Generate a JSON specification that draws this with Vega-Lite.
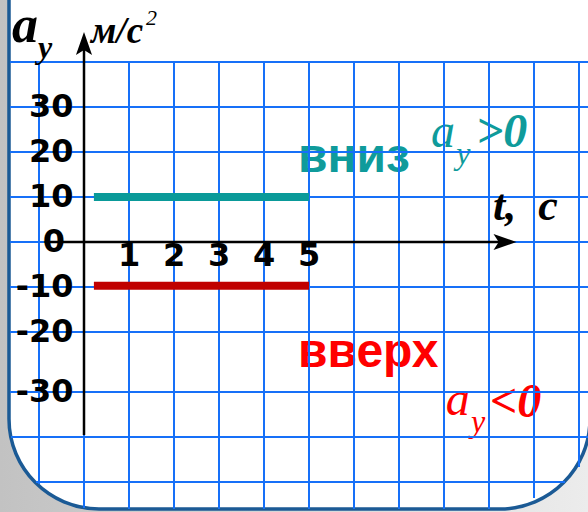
{
  "$schema": "https://vega.github.io/schema/vega-lite/v6.json",
  "width": 588,
  "height": 512,
  "padding": 0,
  "autosize": {"type": "none"},
  "config": {"view": {"stroke": null}},
  "resolve": {"scale": {"color": "independent"}},
  "encoding": {
    "x": {"field": "t", "type": "quantitative", "scale": {"domain": [-1.86667, 11.2], "nice": false, "zero": false}, "axis": null},
    "y": {"field": "v", "type": "quantitative", "scale": {"domain": [-60, 53.7778], "nice": false, "zero": false}, "axis": null}
  },
  "layer": [
    {
      "data": {"values": [{"t": -1.86667, "t2": 11.2, "v": -60, "v2": 53.7778}]},
      "mark": {"type": "rect", "fill": {"gradient": "linear", "x1": 0, "y1": 0, "x2": 1, "y2": 0, "stops": [{"offset": 0, "color": "#c2c2c2"}, {"offset": 1, "color": "#ececec"}]}},
      "encoding": {"x2": {"field": "t2"}, "y2": {"field": "v2"}}
    },
    {
      "data": {"values": [{"t": -1.6667, "t2": 11.244, "v": -59.33, "v2": 76}]},
      "mark": {"type": "rect", "fill": "white", "stroke": "#1b5a95", "strokeWidth": 3.5, "cornerRadius": 90},
      "encoding": {"x2": {"field": "t2"}, "y2": {"field": "v2"}}
    },
    {
      "data": {"values": [
        {"t": 4.756, "v": 15.56, "label": "вниз", "sign": "a_y>0"},
        {"t": 4.756, "v": -27.78, "label": "вверх", "sign": "a_y<0"}
      ]},
      "mark": {"type": "text", "font": "Liberation Sans", "fontWeight": "bold", "fontSize": 48, "align": "left", "baseline": "alphabetic"},
      "encoding": {
        "text": {"field": "label"},
        "color": {"field": "sign", "type": "nominal", "scale": {"domain": ["a_y>0", "a_y<0"], "range": ["#0f9b9b", "#ff0000"]}, "legend": null}
      }
    },
    {
      "data": {"values": [
        {"t": 7.71, "v": 21.11, "label": "a", "sign": "a_y>0"},
        {"t": 8.04, "v": -38.44, "label": "a", "sign": "a_y<0"}
      ]},
      "mark": {"type": "text", "font": "Liberation Serif", "fontStyle": "italic", "fontSize": 48, "align": "left", "baseline": "alphabetic"},
      "encoding": {
        "text": {"field": "label"},
        "color": {"field": "sign", "type": "nominal", "scale": {"domain": ["a_y>0", "a_y<0"], "range": ["#0f9b9b", "#ff0000"]}, "legend": null}
      }
    },
    {
      "data": {"values": [
        {"t": 8.71, "v": 21.11, "label": ">0", "sign": "a_y>0"},
        {"t": 9.02, "v": -38.89, "label": "<0", "sign": "a_y<0"}
      ]},
      "mark": {"type": "text", "font": "Liberation Serif", "fontStyle": "italic", "fontWeight": "bold", "fontSize": 48, "align": "left", "baseline": "alphabetic"},
      "encoding": {
        "text": {"field": "label"},
        "color": {"field": "sign", "type": "nominal", "scale": {"domain": ["a_y>0", "a_y<0"], "range": ["#0f9b9b", "#ff0000"]}, "legend": null}
      }
    },
    {
      "data": {"values": [
        {"t": 8.27, "v": 17.33, "label": "y", "sign": "a_y>0"},
        {"t": 8.6, "v": -42.22, "label": "y", "sign": "a_y<0"}
      ]},
      "mark": {"type": "text", "font": "Liberation Serif", "fontStyle": "italic", "fontSize": 32, "align": "left", "baseline": "alphabetic"},
      "encoding": {
        "text": {"field": "label"},
        "color": {"field": "sign", "type": "nominal", "scale": {"domain": ["a_y>0", "a_y<0"], "range": ["#0f9b9b", "#ff0000"]}, "legend": null}
      }
    },
    {
      "data": {"values": [
        {"t": -1, "t2": -1, "v": 40, "v2": -53.78},
        {"t": 0, "t2": 0, "v": 40, "v2": -59.1},
        {"t": 1, "t2": 1, "v": 40, "v2": -59.33},
        {"t": 2, "t2": 2, "v": 40, "v2": -59.33},
        {"t": 3, "t2": 3, "v": 40, "v2": -59.33},
        {"t": 4, "t2": 4, "v": 40, "v2": -59.33},
        {"t": 5, "t2": 5, "v": 40, "v2": -59.33},
        {"t": 6, "t2": 6, "v": 40, "v2": -59.33},
        {"t": 7, "t2": 7, "v": 40, "v2": -59.33},
        {"t": 8, "t2": 8, "v": 40, "v2": -59.33},
        {"t": 9, "t2": 9, "v": 40, "v2": -59.33},
        {"t": 10, "t2": 10, "v": 40, "v2": -56.9},
        {"t": 11, "t2": 11, "v": 40, "v2": -50},
        {"t": -1.644, "t2": 11.2, "v": 40, "v2": 40},
        {"t": -1.644, "t2": 11.2, "v": 30, "v2": 30},
        {"t": -1.644, "t2": 11.2, "v": 20, "v2": 20},
        {"t": -1.644, "t2": 11.2, "v": 10, "v2": 10},
        {"t": -1.644, "t2": 11.2, "v": 0, "v2": 0},
        {"t": -1.644, "t2": 11.2, "v": -10, "v2": -10},
        {"t": -1.644, "t2": 11.2, "v": -20, "v2": -20},
        {"t": -1.644, "t2": 11.2, "v": -33.33, "v2": -33.33},
        {"t": -1.622, "t2": 11.2, "v": -43.33, "v2": -43.33},
        {"t": -1.067, "t2": 10.69, "v": -53.33, "v2": -53.33}
      ]},
      "mark": {"type": "rule", "color": "#1670f8", "strokeWidth": 2},
      "encoding": {"x2": {"field": "t2"}, "y2": {"field": "v2"}}
    },
    {
      "data": {"values": [
        {"t": 0, "t2": 0, "v": 44, "v2": -42.89},
        {"t": -0.756, "t2": 9.36, "v": 0, "v2": 0}
      ]},
      "mark": {"type": "rule", "color": "black", "strokeWidth": 2.5},
      "encoding": {"x2": {"field": "t2"}, "y2": {"field": "v2"}}
    },
    {
      "data": {"values": [
        {"t": 0, "v": 44.1, "dir": "up"},
        {"t": 9.356, "v": 0, "dir": "right"}
      ]},
      "mark": {"type": "point", "filled": true, "color": "black", "opacity": 1, "size": 529, "strokeWidth": 0},
      "encoding": {
        "shape": {"field": "dir", "type": "nominal", "scale": {"domain": ["up", "right"], "range": ["M0,-1L0.7,1L0,0.55L-0.7,1Z", "M1,0L-1,-0.7L-0.55,0L-1,0.7Z"]}, "legend": null}
      }
    },
    {
      "data": {"values": [
        {"t": 0.22, "v": 10, "sign": "a_y>0"},
        {"t": 5, "v": 10, "sign": "a_y>0"},
        {"t": 0.22, "v": -9.7, "sign": "a_y<0"},
        {"t": 5, "v": -9.7, "sign": "a_y<0"}
      ]},
      "mark": {"type": "line", "strokeWidth": 8, "strokeCap": "butt"},
      "encoding": {
        "color": {"field": "sign", "type": "nominal", "scale": {"domain": ["a_y>0", "a_y<0"], "range": ["#0a9a99", "#c00000"]}, "legend": null}
      }
    },
    {
      "data": {"values": [
        {"t": -0.233, "v": 30, "label": "30"},
        {"t": -0.233, "v": 20, "label": "20"},
        {"t": -0.233, "v": 10, "label": "10"},
        {"t": -0.422, "v": 0, "label": "0"},
        {"t": -0.233, "v": -10, "label": "-10"},
        {"t": -0.233, "v": -20, "label": "-20"},
        {"t": -0.233, "v": -33.33, "label": "-30"}
      ]},
      "mark": {"type": "text", "font": "DejaVu Sans", "fontWeight": "bold", "fontSize": 32, "align": "right", "baseline": "middle", "color": "black"},
      "encoding": {"text": {"field": "label"}}
    },
    {
      "data": {"values": [
        {"t": 1, "v": -5.33, "label": "1"},
        {"t": 2, "v": -5.33, "label": "2"},
        {"t": 3, "v": -5.33, "label": "3"},
        {"t": 4, "v": -5.33, "label": "4"},
        {"t": 5, "v": -5.33, "label": "5"}
      ]},
      "mark": {"type": "text", "font": "DejaVu Sans", "fontWeight": "bold", "fontSize": 32, "align": "center", "baseline": "alphabetic", "color": "black"},
      "encoding": {"text": {"field": "label"}}
    },
    {
      "data": {"values": [{"t": -1.6, "v": 44.44, "label": "a"}]},
      "mark": {"type": "text", "font": "Liberation Serif", "fontStyle": "italic", "fontWeight": "bold", "fontSize": 52, "align": "left", "baseline": "alphabetic", "color": "black"},
      "encoding": {"text": {"field": "label"}}
    },
    {
      "data": {"values": [{"t": -1.02, "v": 40.9, "label": "y"}]},
      "mark": {"type": "text", "font": "Liberation Serif", "fontStyle": "italic", "fontWeight": "bold", "fontSize": 32, "align": "left", "baseline": "alphabetic", "color": "black"},
      "encoding": {"text": {"field": "label"}}
    },
    {
      "data": {"values": [{"t": 0.156, "v": 44.3, "label": "м/с"}]},
      "mark": {"type": "text", "font": "Liberation Serif", "fontStyle": "italic", "fontWeight": "bold", "fontSize": 37, "align": "left", "baseline": "alphabetic", "color": "black"},
      "encoding": {"text": {"field": "label"}}
    },
    {
      "data": {"values": [{"t": 1.38, "v": 48.2, "label": "2"}]},
      "mark": {"type": "text", "font": "Liberation Serif", "fontStyle": "italic", "fontSize": 22, "align": "left", "baseline": "alphabetic", "color": "black"},
      "encoding": {"text": {"field": "label"}}
    },
    {
      "data": {"values": [{"t": 9.09, "v": 4.89, "label": "t,\u00a0\u00a0c"}]},
      "mark": {"type": "text", "font": "Liberation Serif", "fontStyle": "italic", "fontWeight": "bold", "fontSize": 44, "align": "left", "baseline": "alphabetic", "color": "black"},
      "encoding": {"text": {"field": "label"}}
    }
  ]
}
